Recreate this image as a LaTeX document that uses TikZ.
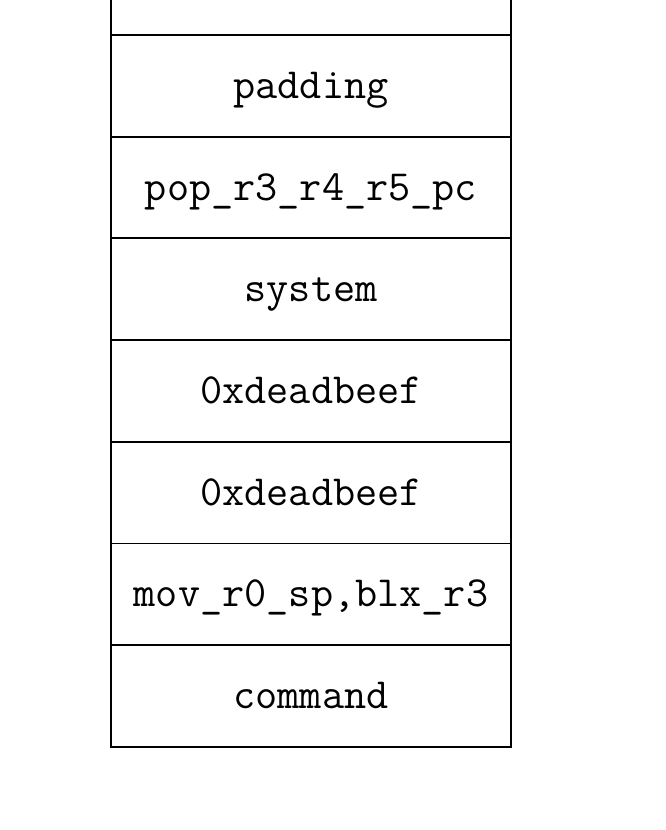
\documentclass[tikz,border=0pt]{standalone}
\usepackage{fontspec}
\usepackage{tikz}
\usetikzlibrary{positioning}

\tikzset{
  cell/.style={draw, line width=1.8pt, minimum width=400pt, minimum height=101.7pt,
    inner sep=0pt, outer sep=0pt, text height=34pt, text depth=9pt,
    font=\ttfamily\fontsize{43}{50}\selectfont}
}

\begin{document}
\begin{tikzpicture}[x=1pt, y=1pt]
  \useasboundingbox (0,0) rectangle (666,830);

  % --- 栈布局 (从上到下) ---
  \node[cell] (padding) at (311,744.15) {padding};
  \node[cell, below=0pt of padding] (gadget) {pop\_r3\_r4\_r5\_pc};
  \node[cell, below=0pt of gadget] (system) {system};
  \node[cell, below=0pt of system] (beefA) {0xdeadbeef};
  \node[cell, below=0pt of beefA] (beefB) {0xdeadbeef};
  \node[cell, below=0pt of beefB] (movblx) {mov\_r0\_sp,blx\_r3};
  \node[cell, below=0pt of movblx] (command) {command};

  % 顶部未画完的格子
  \draw[line width=1.8pt] (padding.north west) -- ++(0,35);
  \draw[line width=1.8pt] (padding.north east) -- ++(0,35);
\end{tikzpicture}
\end{document}
